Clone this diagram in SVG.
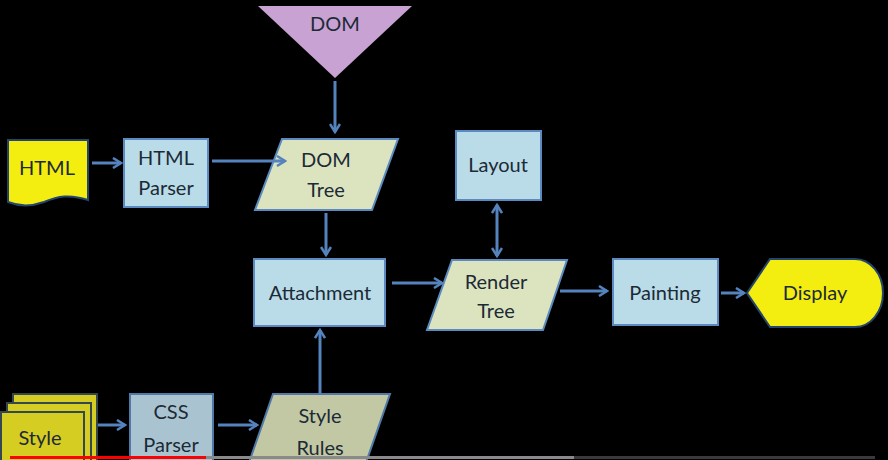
<svg xmlns="http://www.w3.org/2000/svg" width="888" height="460" viewBox="0 0 888 460">
<style>
.bg{fill:#000}
.box{fill:#b9dce8;stroke:#5a8ac0;stroke-width:2}
.boxd{fill:#a9c4d0;stroke:#4f7aa8;stroke-width:2}
.para{fill:#dbe4bf;stroke:#5a8ac0;stroke-width:2}
.parad{fill:#c2c8a4;stroke:#4f7aa8;stroke-width:2}
.yel{fill:#f4ee10;stroke:#23456e;stroke-width:2}
.sty{fill:#d6cd22;stroke:#34464e;stroke-width:2}
.t{font-family:Lato,"Open Sans",sans-serif;font-size:20px;fill:#1c2a36;text-anchor:middle}
.c{stroke:#5583bd;stroke-width:3;fill:none}
</style>
<defs>
<marker id="ah" viewBox="0 0 12 12" refX="10" refY="6" markerWidth="4" markerHeight="4" orient="auto-start-reverse" markerUnits="strokeWidth">
<path d="M2,1 L10,6 L2,11" fill="none" stroke="#5583bd" stroke-width="2.5" stroke-linejoin="miter"/>
</marker>
</defs>
<rect class="bg" x="0" y="0" width="888" height="460"/>

<g id="dom">
<polygon points="258,6 412,6 335,78" fill="#c8a2d2"/>
<text class="t" x="335" y="31">DOM</text>
</g>

<g id="html">
<path class="yel" d="M8,140 H88 V200 C70,194 58,196 44,202 C30,207 18,206 8,202 Z"/>
<text class="t" x="47" y="175">HTML</text>
</g>

<g id="html-parser">
<rect class="box" x="124" y="139" width="84" height="68"/>
<text class="t" x="166" y="165">HTML</text>
<text class="t" x="166" y="195">Parser</text>
</g>

<g id="dom-tree">
<polygon class="para" points="282,139 398,139 372,210 255,210"/>
<text class="t" x="326" y="167">DOM</text>
<text class="t" x="326" y="197">Tree</text>
</g>

<g id="attachment">
<rect class="box" x="254" y="259" width="131" height="67"/>
<text class="t" x="320" y="300">Attachment</text>
</g>

<g id="layout">
<rect class="box" x="456" y="131" width="85" height="69"/>
<text class="t" x="498" y="172">Layout</text>
</g>

<g id="render-tree">
<polygon class="para" points="452,260 567,260 543,330 427,330"/>
<text class="t" x="496" y="289">Render</text>
<text class="t" x="496" y="318">Tree</text>
</g>

<g id="painting">
<rect class="box" x="613" y="259" width="105" height="66"/>
<text class="t" x="665" y="300">Painting</text>
</g>

<g id="display">
<path class="yel" d="M747,293 L770,259 H855 A28,34 0 0 1 855,327 H770 Z"/>
<text class="t" x="815" y="300">Display</text>
</g>

<g id="style">
<rect class="sty" x="13" y="394" width="84" height="80"/>
<rect class="sty" x="7" y="403" width="84" height="80"/>
<rect class="sty" x="1" y="412" width="83" height="80"/>
<text class="t" x="40" y="445">Style</text>
</g>

<g id="css-parser">
<rect class="boxd" x="130" y="394" width="83" height="80"/>
<text class="t" x="171" y="419">CSS</text>
<text class="t" x="171" y="452">Parser</text>
</g>

<g id="style-rules">
<polygon class="parad" points="273,394 390,394 362,474 245,474"/>
<text class="t" x="320" y="423">Style</text>
<text class="t" x="320" y="455">Rules</text>
</g>

<g id="connectors">
<line class="c" x1="335" y1="81" x2="335" y2="132" marker-end="url(#ah)"/>
<line class="c" x1="92" y1="163" x2="121" y2="163" marker-end="url(#ah)"/>
<line class="c" x1="212" y1="161" x2="285" y2="161" marker-end="url(#ah)"/>
<line class="c" x1="326" y1="213" x2="326" y2="255" marker-end="url(#ah)"/>
<line class="c" x1="320" y1="394" x2="320" y2="330" marker-end="url(#ah)"/>
<line class="c" x1="392" y1="283" x2="442" y2="283" marker-end="url(#ah)"/>
<line class="c" x1="497" y1="205" x2="497" y2="256" marker-start="url(#ah)" marker-end="url(#ah)"/>
<line class="c" x1="560" y1="291" x2="607" y2="291" marker-end="url(#ah)"/>
<line class="c" x1="721" y1="293" x2="744" y2="293" marker-end="url(#ah)"/>
<line class="c" x1="98" y1="425" x2="125" y2="425" marker-end="url(#ah)"/>
<line class="c" x1="218" y1="425" x2="257" y2="425" marker-end="url(#ah)"/>
</g>

<rect x="206" y="456" width="368" height="3" fill="#8a8a8a"/>
<rect x="574" y="456" width="301" height="3" fill="#3a3a3a"/>
<rect x="10" y="456" width="196" height="3" fill="#ff0000"/>
</svg>
